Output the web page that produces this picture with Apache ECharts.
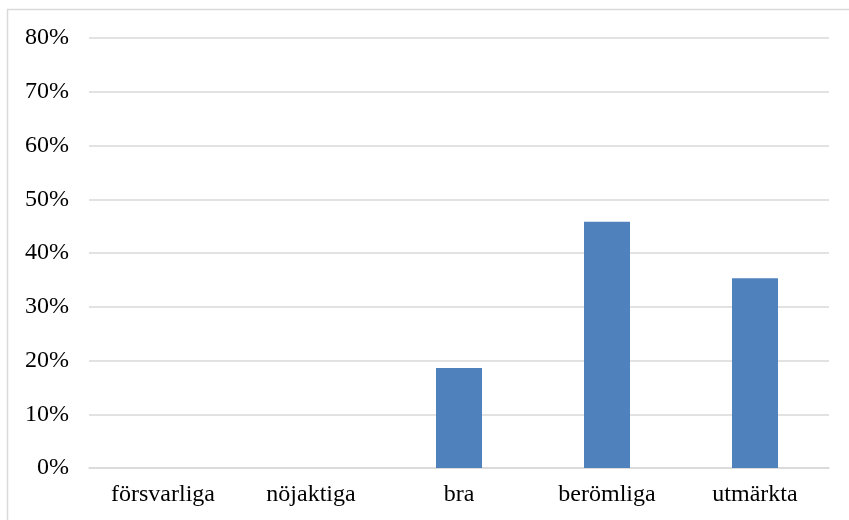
<!DOCTYPE html>
<html>
<head>
<meta charset="utf-8">
<script src="https://cdn.jsdelivr.net/npm/echarts@6/dist/echarts.min.js"></script>
<style>
  html, body { margin: 0; padding: 0; background: #ffffff; }
  #chart { width: 849px; height: 520px; }
</style>
</head>
<body>
<div id="chart"></div>
<script>
// Grade categories and share of answers (percent)
const categories = ['försvarliga', 'nöjaktiga', 'bra', 'berömliga', 'utmärkta'];
const shares = [0, 0, 18.6, 45.8, 35.3];
const yTicks = { min: 0, max: 80, interval: 10 };

const chart = echarts.init(document.getElementById('chart'), null, { renderer: 'canvas' });
const serif = '"Liberation Serif", "Times New Roman", serif';

chart.setOption({
  animation: false,
  backgroundColor: '#ffffff',
  graphic: [{
    type: 'rect',
    shape: { x: 7.5, y: 9.5, width: 1000, height: 1000 },
    style: { fill: 'none', stroke: '#d9d9d9', lineWidth: 1.5 },
    silent: true
  }],
  grid: { left: 89, right: 20, top: 38, bottom: 52, containLabel: false },
  xAxis: {
    type: 'category',
    data: categories,
    axisLine: { show: true, lineStyle: { color: '#d9d9d9', width: 1.5 } },
    axisTick: { show: false },
    axisLabel: { color: '#000000', fontFamily: serif, fontSize: 24, margin: 15 },
    splitLine: { show: false }
  },
  yAxis: {
    type: 'value',
    min: yTicks.min,
    max: yTicks.max,
    interval: yTicks.interval,
    axisLine: { show: false },
    axisTick: { show: false },
    axisLabel: {
      color: '#000000', fontFamily: serif, fontSize: 24, margin: 20,
      formatter: v => v + '%'
    },
    splitLine: { lineStyle: { color: '#d9d9d9', width: 1.5 } }
  },
  series: [{
    type: 'bar',
    data: shares,
    barWidth: 46,
    itemStyle: { color: '#4f81bd' }
  }]
});
</script>
</body>
</html>
